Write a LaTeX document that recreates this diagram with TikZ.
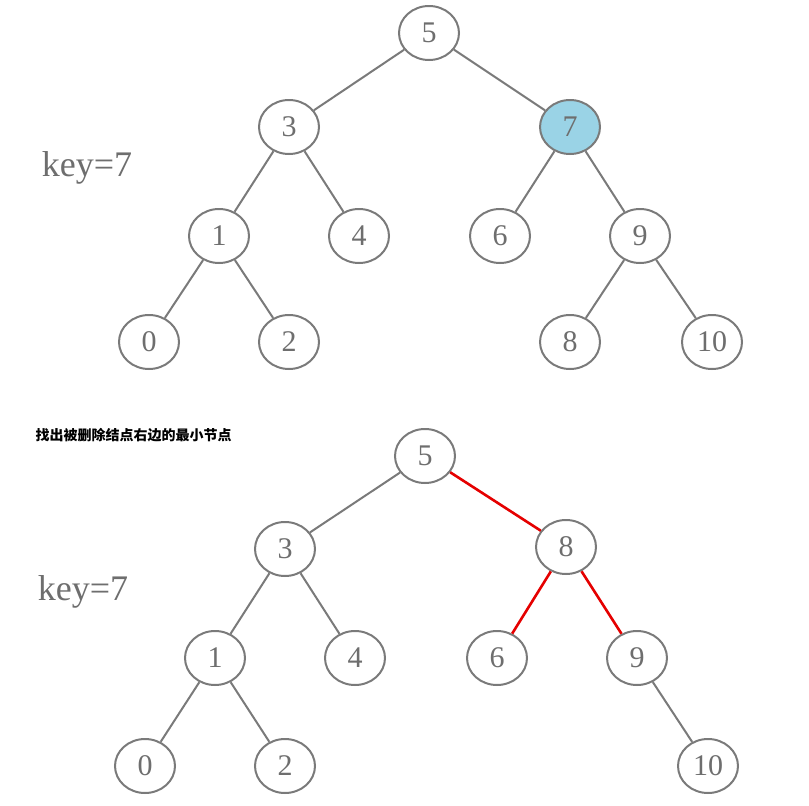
\documentclass[tikz,border=0pt]{standalone}
\usepackage{fontspec}
\setmainfont{Liberation Serif}
\newfontfamily\cjk{Noto Sans CJK SC}
\usetikzlibrary{shapes.geometric}
\definecolor{tx}{HTML}{6E6E6E}
\definecolor{ln}{HTML}{7A7A7A}
\definecolor{fillb}{HTML}{9AD3E6}
\begin{document}
\begin{tikzpicture}[x=1pt,y=-1pt,
  n/.style={ellipse,draw=ln,line width=2pt,fill=white,minimum width=60pt,minimum height=54pt,inner sep=0pt,text=tx,font=\fontsize{30}{30}\selectfont},
  e/.style={draw=ln,line width=2pt},
  r/.style={draw=red!90!black,line width=2.6pt},
  lab/.style={text=tx,font=\fontsize{36}{36}\selectfont}]
\useasboundingbox (0,0) rectangle (809,806);
% top tree
\node[n] (a5) at (429,33) {5};
\node[n] (a3) at (289,127) {3};
\node[n,fill=fillb] (a7) at (570,127) {7};
\node[n] (a1) at (219,236) {1};
\node[n] (a4) at (359,236) {4};
\node[n] (a6) at (500,236) {6};
\node[n] (a9) at (640,236) {9};
\node[n] (a0) at (149,342) {0};
\node[n] (a2) at (289,342) {2};
\node[n] (a8) at (570,342) {8};
\node[n] (a10) at (712,342) {10};
\foreach \p/\c in {a5/a3,a5/a7,a3/a1,a3/a4,a7/a6,a7/a9,a1/a0,a1/a2,a9/a8,a9/a10}
  \draw[e] (\p) -- (\c);
\node[lab] (k1) at (87,168) {key=7};
% bottom tree
\node[anchor=west,font=\cjk\bfseries\fontsize{14}{14}\selectfont] (t) at (32,435) {找出被删除结点右边的最小节点};
\node[n] (b5) at (425,456) {5};
\node[n] (b3) at (285,549) {3};
\node[n] (b8) at (566,547) {8};
\node[n] (b1) at (215,658) {1};
\node[n] (b4) at (355,658) {4};
\node[n] (b6) at (497,658) {6};
\node[n] (b9) at (637,658) {9};
\node[n] (b0) at (145,766) {0};
\node[n] (b2) at (285,766) {2};
\node[n] (b10) at (708,766) {10};
\foreach \p/\c in {b5/b3,b3/b1,b3/b4,b1/b0,b1/b2,b9/b10}
  \draw[e] (\p) -- (\c);
\foreach \p/\c in {b5/b8,b8/b6,b8/b9}
  \draw[r] (\p) -- (\c);
\node[lab] (k2) at (83,592) {key=7};
\end{tikzpicture}
\end{document}
